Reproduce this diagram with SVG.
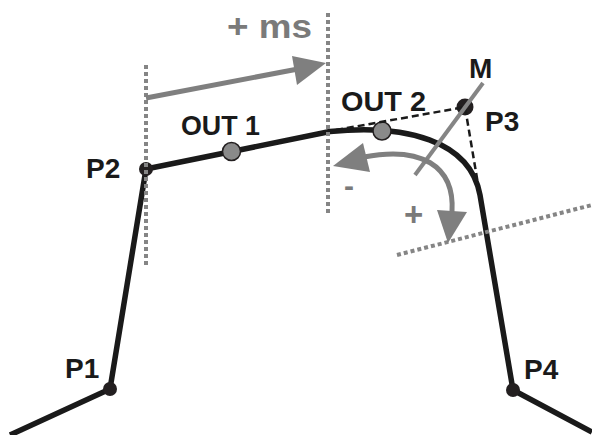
<svg xmlns="http://www.w3.org/2000/svg" width="592" height="435" viewBox="0 0 592 435">
<style>
.lbl{font-family:"Liberation Sans",Arial,sans-serif;font-weight:bold;font-size:28px;fill:#1a1a1a}
.glbl{font-family:"Liberation Sans",Arial,sans-serif;font-weight:bold;font-size:30px;fill:#7a7a7a}
.curve{fill:none;stroke:#1a1a1a;stroke-width:5.5;stroke-linejoin:round}
.dot{fill:none;stroke:#858585;stroke-width:4;stroke-dasharray:4 3}
.dash{fill:none;stroke:#1a1a1a;stroke-width:2.5;stroke-dasharray:7 4}
.garrow{fill:none;stroke:#7f7f7f;stroke-width:5}
.ghead{fill:#7f7f7f}
.pt{fill:#231f20}
.out{fill:#8a8a8a;stroke:#231f20;stroke-width:1.5}
</style>
<rect width="592" height="435" fill="#ffffff"/>
<g id="connectors">
  <path class="curve" d="M 10 435 L 110 389 L 146 169 L 330 131.5 C 405 124, 470 140, 480 195 L 513 390 L 592 432"/>
</g>
<g id="P1"><circle class="pt" cx="110" cy="389" r="7"/><text class="lbl" x="65" y="378">P1</text></g>
<g id="P2"><circle class="pt" cx="146" cy="169" r="7"/><text class="lbl" x="86" y="178">P2</text></g>
<g id="P3"><circle class="pt" cx="465" cy="107" r="8.5"/><text class="lbl" x="485" y="131">P3</text></g>
<g id="P4"><circle class="pt" cx="513" cy="390" r="7"/><text class="lbl" x="524" y="379">P4</text></g>
<g id="OUT1"><circle class="out" cx="231.5" cy="151.5" r="9"/><text class="lbl" x="181" y="135" textLength="79" lengthAdjust="spacingAndGlyphs">OUT 1</text></g>
<g id="OUT2"><circle class="out" cx="382" cy="131" r="9"/><text class="lbl" x="341" y="111" textLength="85" lengthAdjust="spacingAndGlyphs">OUT 2</text></g>
<g id="tangents">
  <path class="dash" d="M 336 130 L 465 107 L 479 190"/>
</g>
<g id="M">
  <line x1="483" y1="83" x2="415" y2="175" stroke="#858585" stroke-width="4"/>
  <text class="lbl" x="469" y="78">M</text>
</g>
<g id="guides">
  <line class="dot" x1="146" y1="65" x2="146" y2="268"/>
  <line class="dot" x1="328" y1="13" x2="328" y2="216"/>
  <line class="dot" x1="397" y1="255" x2="592" y2="205"/>
</g>
<g id="ms">
  <line class="garrow" x1="146" y1="98" x2="298" y2="69"/>
  <polygon class="ghead" points="326,63 292,56 297,85"/>
  <text class="glbl" x="227" y="38" style="font-size:34px" textLength="85" lengthAdjust="spacingAndGlyphs">+ ms</text>
</g>
<g id="rotation">
  <path class="garrow" d="M 364 157 C 420 146, 455 165, 452 212"/>
  <polygon class="ghead" points="333,166 363,143 370,172"/>
  <polygon class="ghead" points="448,243 437,210 467,212"/>
  <text class="glbl" x="344" y="196">-</text>
  <text class="glbl" x="404" y="226" style="font-size:33px">+</text>
</g>
</svg>
